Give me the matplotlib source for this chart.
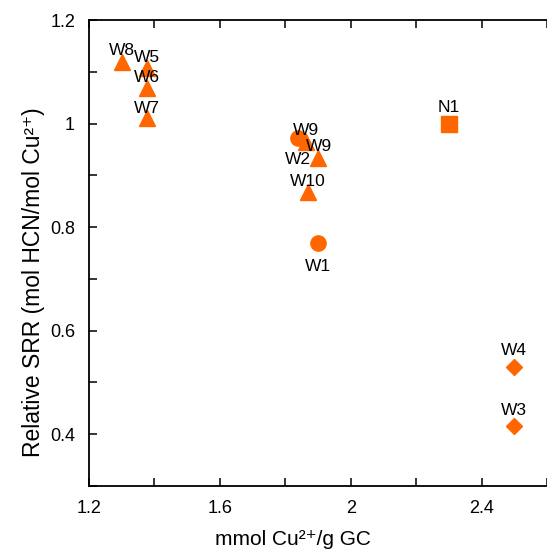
import matplotlib
matplotlib.use('Agg')
import matplotlib.pyplot as plt
import numpy as np

# samples
labels = ['W8', 'W5', 'W6', 'W7', 'W9', 'W9', 'W2', 'W10', 'W1', 'N1', 'W4', 'W3']
cu_loading = [1.30, 1.378, 1.378, 1.378, 1.838, 1.863, 1.90, 1.87, 1.90, 2.30, 2.50, 2.50]
rel_srr = [1.119, 1.107, 1.068, 1.010, 0.972, 0.965, 0.933, 0.867, 0.769, 1.00, 0.529, 0.415]
markers = ['^', '^', '^', '^', 'o', '^', '^', '^', 'o', 's', 'D', 'D']
# label centre offsets from the marker, in pixels (dx right, dy up)
offsets_px = [(0, 13), (0, 12), (0, 13), (0, 12), (8, 9), (13, -3), (-20, 0),
              (0, 13), (0, -22), (0, 18), (0, 19), (0, 18)]

x_ticks = np.round(np.arange(1.2, 2.61, 0.2), 1)
y_ticks = np.round(np.arange(0.3, 1.21, 0.1), 1)
x_labelled = [1.2, 1.6, 2.0, 2.4]
y_labelled = [0.4, 0.6, 0.8, 1.0, 1.2]

plt.rcParams['font.family'] = ['Liberation Sans', 'DejaVu Sans']

fig = plt.figure(figsize=(5.47, 5.51), dpi=100)
ax = fig.add_axes([0.1627, 0.118, 0.8373, 0.8457])

orange = '#ff6600'
sizes = {'^': 12, 'o': 11, 's': 11, 'D': 8}
for xv, yv, m in zip(cu_loading, rel_srr, markers):
    ax.plot(xv, yv, marker=m, color=orange, ms=sizes[m], mec=orange, ls='none', zorder=3)

for lab, xv, yv, (dx, dy) in zip(labels, cu_loading, rel_srr, offsets_px):
    ax.annotate(lab, (xv, yv), xytext=(dx * 0.72, dy * 0.72 - 1.2), textcoords='offset points',
                ha='center', va='center', fontsize=12.5, zorder=4)

ax.set_xlim(1.2, 1.2 + 458 / 333.3)
ax.set_ylim(0.3, 1.2)
ax.set_xticks(x_ticks)
ax.set_yticks(y_ticks)
ax.set_xticklabels(['%g' % v if v in x_labelled else '' for v in x_ticks])
ax.set_yticklabels(['%g' % v if v in y_labelled else '' for v in y_ticks])
ax.tick_params(direction='in', length=6, width=1.1, labelsize=13, pad=10, top=True)
ax.spines['right'].set_visible(False)
for s in ['left', 'bottom', 'top']:
    ax.spines[s].set_linewidth(1.3)

ax.set_xlabel('mmol Cu²⁺/g GC', fontsize=15)
ax.set_ylabel('Relative SRR (mol HCN/mol Cu²⁺)', fontsize=16.5)
ax.xaxis.set_label_coords(0.445, -0.095)
ax.yaxis.set_label_coords(-0.097, 0.438)

fig.savefig('out.png', dpi=100)
